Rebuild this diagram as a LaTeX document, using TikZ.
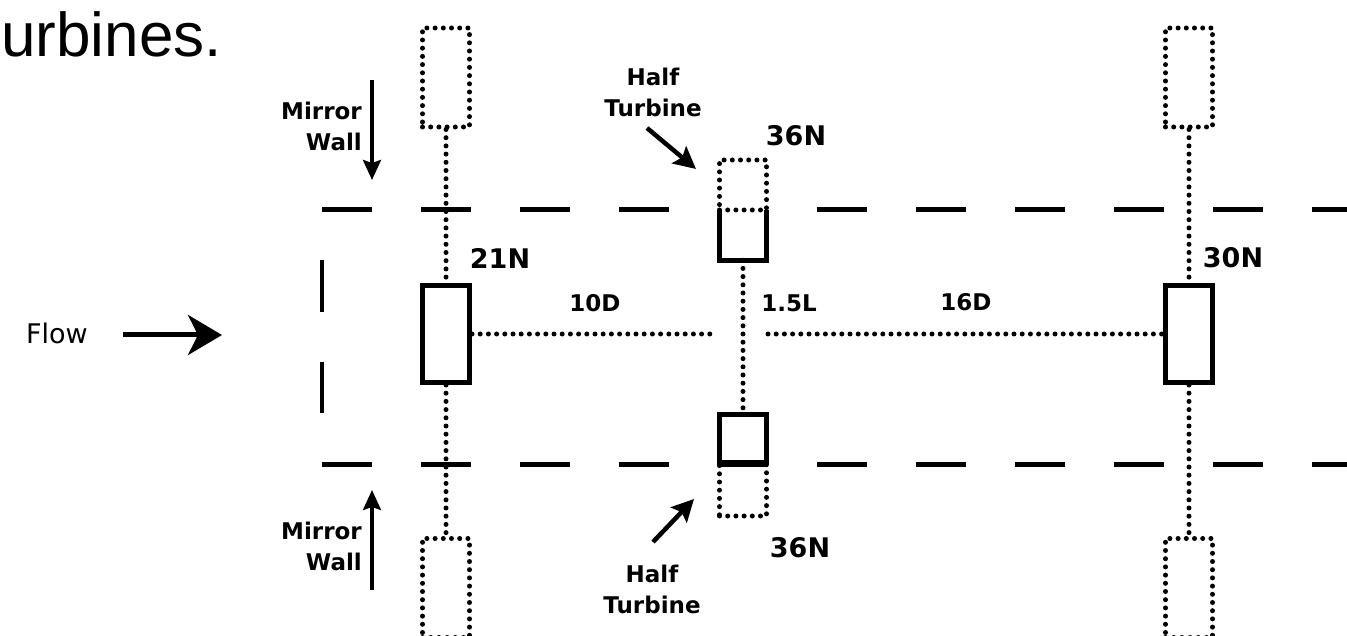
\documentclass[tikz,border=0pt]{standalone}
\usepackage{fontspec}
\setmainfont{DejaVu Sans}
\newfontfamily\titlefont{Liberation Sans}
\usetikzlibrary{arrows.meta}
\begin{document}
\begin{tikzpicture}[x=1pt,y=-1pt,
  dotline/.style={line width=5pt, line cap=round, dash pattern=on 0pt off 8.2pt},
  turb/.style={draw, line width=5pt, inner sep=0pt, minimum width=47pt, minimum height=97pt},
  ghost/.style={draw, dotline, inner sep=0pt, minimum width=47pt, minimum height=#1},
  halfbox/.style={inner sep=0pt, minimum width=47pt, minimum height=#1},
  wall/.style={line width=5pt},
  lab/.style={font=\bfseries\fontsize{27}{32}\selectfont, inner sep=0pt},
  dimlab/.style={font=\bfseries\fontsize{23}{28}\selectfont, inner sep=0pt},
  note/.style={font=\bfseries\fontsize{23}{31}\selectfont, inner sep=0pt},
  thinarrow/.style={line width=3.4pt, -{Stealth[length=20pt,width=18pt,inset=3pt]}},
]
\clip (0,0) rectangle (1347,636);
\fill[white] (0,0) rectangle (1347,636);

% title fragment
\node[anchor=base west, inner sep=0pt, font=\titlefont\fontsize{62}{70}\selectfont] (title) at (1,57) {urbines.};

% mirror walls (dashed)
\foreach \x in {322,421,520,619,817,916,1015,1114,1213,1312}
  \draw[wall] (\x,210) -- ++(50,0);
\foreach \x in {322,421,520,619,718,817,916,1015,1114,1213,1312}
  \draw[wall] (\x,464) -- ++(50,0);
% inlet
\draw[line width=4.5pt] (322,260) -- (322,312);
\draw[line width=4.5pt] (322,362) -- (322,413);

% flow
\node[font=\fontsize{27}{32}\selectfont, inner sep=0pt] (flow) at (57,333) {Flow};
\coordinate (fa) at (123,335);
\coordinate (fb) at (222,335);
\draw[line width=5pt, -{Stealth[length=34pt,width=40pt,inset=10pt]}] (fa) -- (fb);

% turbine 1
\node[turb] (t1) at (446,334) {};
\node[ghost=99pt] (t1u) at (446,77.5) {};
\node[ghost=99pt] (t1d) at (446,588) {};
\draw[dotline] (t1u) -- (t1);
\draw[dotline] (t1) -- (t1d);
\node[lab] (l21) at (500,258) {21N};

% turbine 3
\node[turb] (t3) at (1189,334) {};
\node[ghost=99pt] (t3u) at (1189,77.5) {};
\node[ghost=99pt] (t3d) at (1189,588) {};
\draw[dotline] (t3u) -- (t3);
\draw[dotline] (t3) -- (t3d);
\node[lab] (l30) at (1233,258) {30N};

% half turbines
\node[halfbox=50pt] (h1) at (743,235) {};
\draw[line width=5pt] (h1.north west) -- (h1.south west) -- (h1.south east) -- (h1.north east);
\node[ghost=50pt] (h1g) at (743,185) {};
\node[turb, minimum height=48pt] (h2) at (743,438) {};
\node[ghost=52pt] (h2g) at (743,490) {};
\draw[dotline] (h1) -- (h2);
\node[lab] (l36a) at (796,136) {36N};
\node[lab] (l36b) at (800,548) {36N};

% axis
\coordinate (g1) at (713,334);
\coordinate (g2) at (768,334);
\draw[dotline] (t1.east) -- (g1);
\draw[dotline] (g2) -- (t3.west);
\node[dimlab] (d10) at (595,303) {10D};
\node[dimlab] (d15) at (789,303) {1.5L};
\node[dimlab] (d16) at (966,302) {16D};

% half turbine notes
\node[note, align=center] (ht1) at (653,92) {Half\\Turbine};
\coordinate (a1s) at (647,128);
\coordinate (a1e) at (696,169);
\draw[line width=4.5pt, -{Stealth[length=22pt,width=22pt,inset=4pt]}] (a1s) -- (a1e);
\node[note, align=center] (ht2) at (652,589) {Half\\Turbine};
\coordinate (a2s) at (653,542);
\coordinate (a2e) at (694,499);
\draw[line width=4.5pt, -{Stealth[length=22pt,width=22pt,inset=4pt]}] (a2s) -- (a2e);

% mirror wall notes
\node[note, align=right, anchor=east] (mw1) at (362,126) {Mirror\\Wall};
\coordinate (m1s) at (372,80);
\coordinate (m1e) at (372,180);
\draw[thinarrow] (m1s) -- (m1e);
\node[note, align=right, anchor=east] (mw2) at (362,546) {Mirror\\Wall};
\coordinate (m2s) at (372,590);
\coordinate (m2e) at (372,490);
\draw[thinarrow] (m2s) -- (m2e);
\end{tikzpicture}
\end{document}
